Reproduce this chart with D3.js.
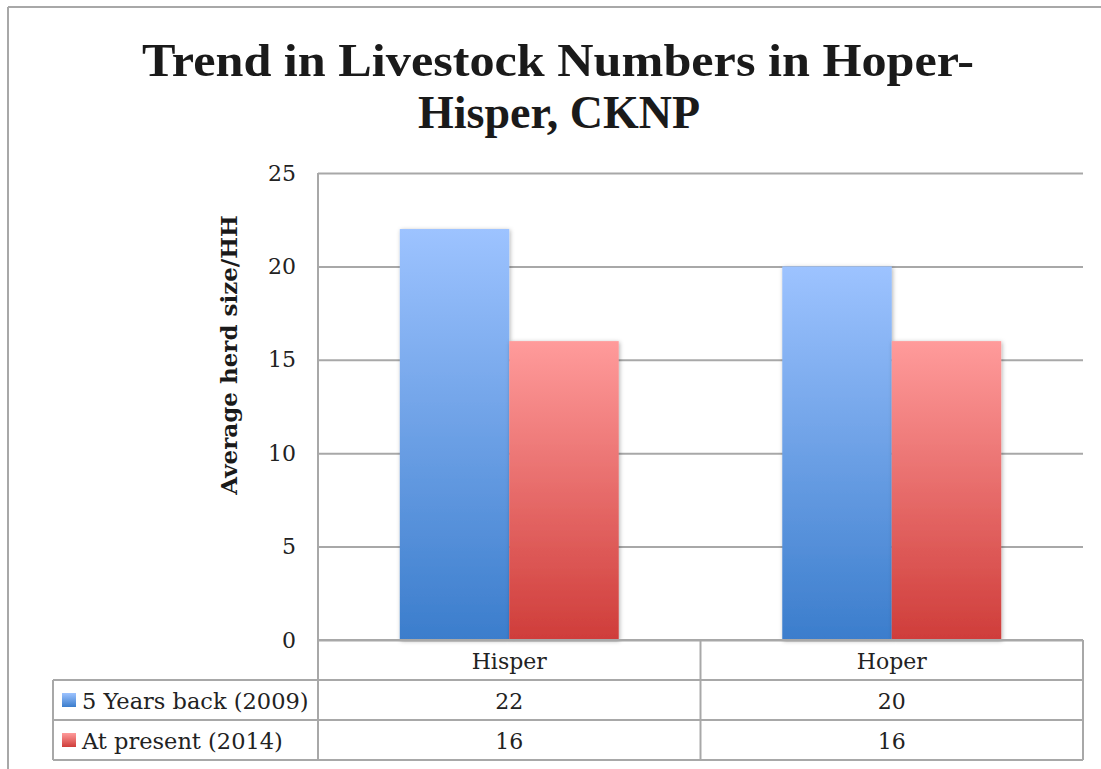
<!DOCTYPE html>
<html>
<head>
<meta charset="utf-8">
<script src="https://cdn.jsdelivr.net/npm/d3@7"></script>
<style>
  html, body { margin: 0; padding: 0; background: #fff; }
  svg { display: block; }
</style>
</head>
<body>
<script>
// Livestock herd sizes per household, two sites, two periods
const categories = ["Hisper", "Hoper"];
const seriesNames = ["5 Years back (2009)", "At present (2014)"];
const values2009 = [22, 20];
const values2014 = [16, 16];
const yTicks = [0, 5, 10, 15, 20, 25];

const seriesValues = [values2009, values2014];

const W = 1101, H = 769;
const plot = { left: 318, right: 1083, top: 173, bottom: 640 };
const rowH = 40;
const tableLeft = 53;
const serif = "'DejaVu Serif', serif";
const gridColor = "#a8a8a8";

const svg = d3.select("body").append("svg")
  .attr("width", W).attr("height", H);

const defs = svg.append("defs");
const grads = [
  { id: "gBlue", top: "#9dc3ff", bottom: "#3b7dcc" },
  { id: "gRed", top: "#ff9b9b", bottom: "#cf3d3a" }
];
grads.forEach(g => {
  const lg = defs.append("linearGradient").attr("id", g.id)
    .attr("x1", 0).attr("y1", 0).attr("x2", 0).attr("y2", 1);
  lg.append("stop").attr("offset", "0%").attr("stop-color", g.top);
  lg.append("stop").attr("offset", "100%").attr("stop-color", g.bottom);
});
const shadow = defs.append("filter").attr("id", "barShadow")
  .attr("x", "-10%").attr("y", "-5%").attr("width", "125%").attr("height", "115%");
shadow.append("feDropShadow").attr("dx", 1).attr("dy", 1)
  .attr("stdDeviation", 2.2).attr("flood-color", "#000").attr("flood-opacity", 0.3);

// Outer chart frame (top and left edges)
svg.append("line").attr("x1", 8).attr("y1", 7).attr("x2", W).attr("y2", 7)
  .attr("stroke", gridColor).attr("stroke-width", 2);
svg.append("line").attr("x1", 8).attr("y1", 7).attr("x2", 8).attr("y2", H)
  .attr("stroke", gridColor).attr("stroke-width", 2);

// Title
const title = svg.append("text")
  .attr("text-anchor", "middle")
  .attr("font-family", "'Liberation Serif', serif")
  .attr("font-weight", "bold")
  .attr("font-size", 46)
  .attr("fill", "#1a1a1a");
title.append("tspan").attr("x", 558).attr("y", 76)
  .attr("textLength", 832).attr("lengthAdjust", "spacingAndGlyphs")
  .text("Trend in Livestock Numbers in Hoper-");
title.append("tspan").attr("x", 559).attr("y", 128).text("Hisper, CKNP");

// Scales
const y = d3.scaleLinear().domain([0, 25]).range([plot.bottom, plot.top]);
const x0 = d3.scaleBand().domain(categories).range([plot.left, plot.right]).padding(0);
const x1 = d3.scaleBand().domain(d3.range(seriesNames.length))
  .range([0, x0.bandwidth()]).paddingInner(0).paddingOuter(0.747);

// Gridlines
const yAxis = d3.axisLeft(y).tickValues(yTicks).tickSize(-(plot.right - plot.left)).tickPadding(22);
const gy = svg.append("g").attr("transform", `translate(${plot.left},0)`).call(yAxis);
gy.select(".domain").remove();
gy.selectAll(".tick line").attr("stroke", gridColor).attr("stroke-width", 2);
gy.selectAll(".tick text")
  .attr("font-family", serif).attr("font-size", 22).attr("fill", "#222")
  .attr("dy", "0.32em");

// Vertical axis line continuing into the data table
svg.append("line").attr("x1", plot.left).attr("x2", plot.left)
  .attr("y1", plot.top).attr("y2", plot.bottom + 3 * rowH)
  .attr("stroke", gridColor).attr("stroke-width", 2);

// Y axis title
svg.append("text")
  .attr("transform", "translate(237,355) rotate(-90)")
  .attr("text-anchor", "middle")
  .attr("font-family", serif).attr("font-weight", "bold").attr("font-size", 23)
  .attr("fill", "#1a1a1a")
  .text("Average herd size/HH");

// Bars
const fills = ["url(#gBlue)", "url(#gRed)"];
const groups = svg.selectAll("g.cat").data(categories).join("g")
  .attr("class", "cat")
  .attr("transform", d => `translate(${x0(d)},0)`);
groups.selectAll("rect").data((d, i) => seriesValues.map((s, j) => ({ s: j, v: s[i] })))
  .join("rect")
  .attr("x", d => x1(d.s))
  .attr("y", d => y(d.v))
  .attr("width", x1.bandwidth())
  .attr("height", d => y(0) - y(d.v))
  .attr("fill", d => fills[d.s])
  .attr("filter", "url(#barShadow)");

// Data table
const tbl = svg.append("g");
const lineAttrs = sel => sel.attr("stroke", gridColor).attr("stroke-width", 2);
[1, 2, 3].forEach(r => {
  tbl.append("line").attr("x1", tableLeft).attr("x2", plot.right)
    .attr("y1", plot.bottom + r * rowH).attr("y2", plot.bottom + r * rowH).call(lineAttrs);
});
// zero line drawn above the bars
tbl.append("line").attr("x1", plot.left).attr("x2", plot.right)
  .attr("y1", plot.bottom).attr("y2", plot.bottom).call(lineAttrs);
tbl.append("line").attr("x1", tableLeft).attr("x2", tableLeft)
  .attr("y1", plot.bottom + rowH).attr("y2", plot.bottom + 3 * rowH).call(lineAttrs);
categories.forEach(c => {
  const xr = x0(c) + x0.bandwidth();
  tbl.append("line").attr("x1", xr).attr("x2", xr)
    .attr("y1", plot.bottom).attr("y2", plot.bottom + 3 * rowH).call(lineAttrs);
});

const textStyle = sel => sel.attr("font-family", serif).attr("font-size", 22)
  .attr("fill", "#222").attr("dominant-baseline", "central");

// category header row
tbl.selectAll("text.cat").data(categories).join("text")
  .attr("class", "cat")
  .attr("x", d => x0(d) + x0.bandwidth() / 2)
  .attr("y", plot.bottom + rowH / 2 + 1)
  .attr("text-anchor", "middle")
  .call(textStyle)
  .text(d => d);

// series rows with legend keys
seriesNames.forEach((name, j) => {
  const yc = plot.bottom + (j + 1) * rowH + rowH / 2;
  tbl.append("rect").attr("x", 62).attr("y", yc - 7).attr("width", 14).attr("height", 14)
    .attr("fill", fills[j]);
  tbl.append("text").attr("x", 82).attr("y", yc + 1).call(textStyle)
    .attr("font-size", 22.5).text(name);
  tbl.selectAll(null).data(seriesValues[j]).join("text")
    .attr("x", (d, i) => x0(categories[i]) + x0.bandwidth() / 2)
    .attr("y", yc + 1)
    .attr("text-anchor", "middle")
    .call(textStyle)
    .text(d => d);
});
</script>
</body>
</html>
